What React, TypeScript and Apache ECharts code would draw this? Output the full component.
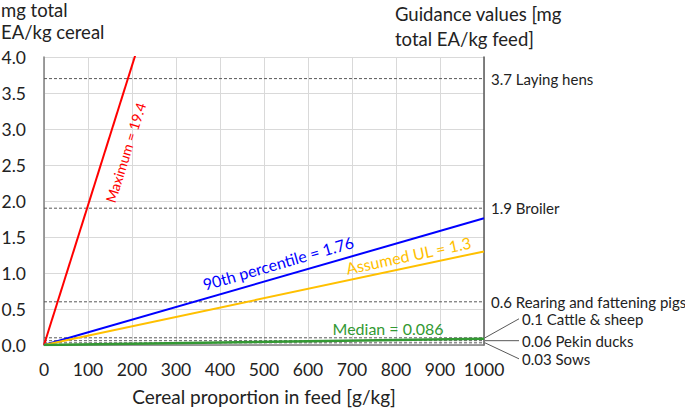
import React, { useEffect, useRef } from "react";
import * as echarts from "echarts";

const xTicksMax = 1000;
const yTicksMax = 4;
const lineNames = ["Maximum", "90th percentile", "Assumed UL", "Median"];
const lineValues = [19.4, 1.76, 1.3, 0.086];
const lineColors = ["#FF0000", "#0000FF", "#FFC000", "#339933"];
const guidanceNames = ["Laying hens", "Broiler", "Rearing and fattening pigs", "Cattle & sheep", "Pekin ducks", "Sows"];
const guidanceValues = [3.7, 1.9, 0.6, 0.1, 0.06, 0.03];

const FONT = "Lato";

export default function App() {
  const ref = useRef<HTMLDivElement>(null);
  useEffect(() => {
    if (!ref.current) return;
    const chart = echarts.init(ref.current, null, { renderer: "svg" });
    const series: any[] = [];
    guidanceValues.forEach((v, i) => {
      series.push({
        type: "line",
        name: guidanceNames[i],
        data: [[0, v], [xTicksMax, v]],
        symbol: "none",
        silent: true,
        lineStyle: { color: "#595959", width: 1, type: [3, 2] },
        z: 2,
      });
    });
    lineValues.forEach((v, i) => {
      series.push({
        type: "line",
        name: lineNames[i],
        data: [[0, 0], [xTicksMax, v]],
        symbol: "none",
        clip: true,
        silent: true,
        lineStyle: { color: lineColors[i], width: i === 3 ? 2.5 : 2 },
        z: 3,
      });
    });
    const option: any = {
      animation: false,
      textStyle: { fontFamily: FONT },
      grid: { left: 44, right: 201, top: 57, bottom: 64, containLabel: false, outerBoundsMode: "none" },
      xAxis: {
        type: "value",
        min: 0,
        max: xTicksMax,
        interval: 100,
        name: "Cereal proportion in feed [g/kg]",
        nameLocation: "middle",
        nameGap: 42,
        nameTextStyle: { fontSize: 19, color: "#222", fontFamily: FONT },
        axisLine: { show: true, lineStyle: { color: "#7f7f7f", width: 1.5 } },
        axisTick: { show: false },
        axisLabel: { fontSize: 17.5, color: "#222", margin: 15, fontFamily: FONT, formatter: (v: number) => String(v) },
        splitLine: { show: true, lineStyle: { color: "#D9D9D9", width: 1 } },
      },
      yAxis: [
        {
          type: "value",
          min: 0,
          max: yTicksMax,
          interval: 0.5,
          axisLine: { show: true, lineStyle: { color: "#7f7f7f", width: 1.5 } },
          axisTick: { show: false },
          axisLabel: { fontSize: 17.5, color: "#222", margin: 18, fontFamily: FONT, formatter: (v: number) => v.toFixed(1) },
          splitLine: { show: true, lineStyle: { color: "#D9D9D9", width: 1 } },
        },
        {
          type: "value",
          position: "right",
          min: 0,
          max: yTicksMax,
          interval: 0.5,
          axisLine: { show: true, lineStyle: { color: "#595959", width: 1.5 } },
          axisTick: { show: false },
          axisLabel: { show: false },
          splitLine: { show: false },
        },
      ],
      series,
    };
    chart.setOption(option);

    const px = (x: number, y: number) => chart.convertToPixel({ gridIndex: 0 }, [x, y]) as number[];
    const graphics: any[] = [];
    graphics.push({
      type: "text", left: 1, top: -1,
      style: { text: "mg total\nEA/kg cereal", fontSize: 18.5, lineHeight: 22, fill: "#222", fontFamily: FONT },
    });
    graphics.push({
      type: "text", left: 395, top: 1,
      style: { text: "Guidance values [mg\ntotal EA/kg feed]", fontSize: 18.5, lineHeight: 25, fill: "#222", fontFamily: FONT },
    });
    // Labels along lines: data x position of label center and perpendicular offset (px, + = above)
    const labelAt = [142, 541, 834];
    const labelOff = [-20, 14, 12];
    const labelSize = [14, 16, 16];
    const labelTexts = lineValues.map((v, i) => `${lineNames[i]} = ${v}`);
    for (let i = 0; i < 3; i++) {
      const v = lineValues[i];
      const p0 = px(0, 0);
      const p1 = px(xTicksMax, v);
      const theta = Math.atan2(-(p1[1] - p0[1]), p1[0] - p0[0]);
      const c = px(labelAt[i], (v * labelAt[i]) / xTicksMax);
      const nx = -Math.sin(theta), ny = -Math.cos(theta);
      graphics.push({
        type: "text",
        x: c[0] + nx * labelOff[i],
        y: c[1] + ny * labelOff[i],
        rotation: theta,
        style: { text: labelTexts[i], fontSize: labelSize[i], fill: lineColors[i], align: "center", verticalAlign: "middle", fontFamily: FONT },
        z: 10,
      });
    }
    {
      const c = px(782, (lineValues[3] * 782) / xTicksMax);
      graphics.push({
        type: "text", x: c[0], y: c[1] - 12,
        style: { text: labelTexts[3], fontSize: 16, fill: lineColors[3], align: "center", verticalAlign: "middle", fontFamily: FONT },
        z: 10,
      });
    }
    // guidance labels
    guidanceValues.forEach((v, i) => {
      const p = px(xTicksMax, v);
      const text = `${v} ${guidanceNames[i]}`;
      if (i < 3) {
        graphics.push({
          type: "text", x: p[0] + 7, y: p[1],
          style: { text, fontSize: 15, fill: "#222", align: "left", verticalAlign: "middle", fontFamily: FONT },
        });
      } else {
        const ty = p[1] + [-19, 0, 16][i - 3];
        const tx = p[0] + 38;
        graphics.push({
          type: "line",
          shape: { x1: p[0] + 1, y1: p[1], x2: tx - 3, y2: ty },
          style: { stroke: "#595959", lineWidth: 1 },
        });
        graphics.push({
          type: "text", x: tx, y: ty,
          style: { text, fontSize: 15, fill: "#222", align: "left", verticalAlign: "middle", fontFamily: FONT },
        });
      }
    });
    chart.setOption({ graphic: graphics });
    return () => chart.dispose();
  }, []);
  return <div ref={ref} style={{ width: 685, height: 409, position: "absolute", left: 0, top: 0 }} />;
}
